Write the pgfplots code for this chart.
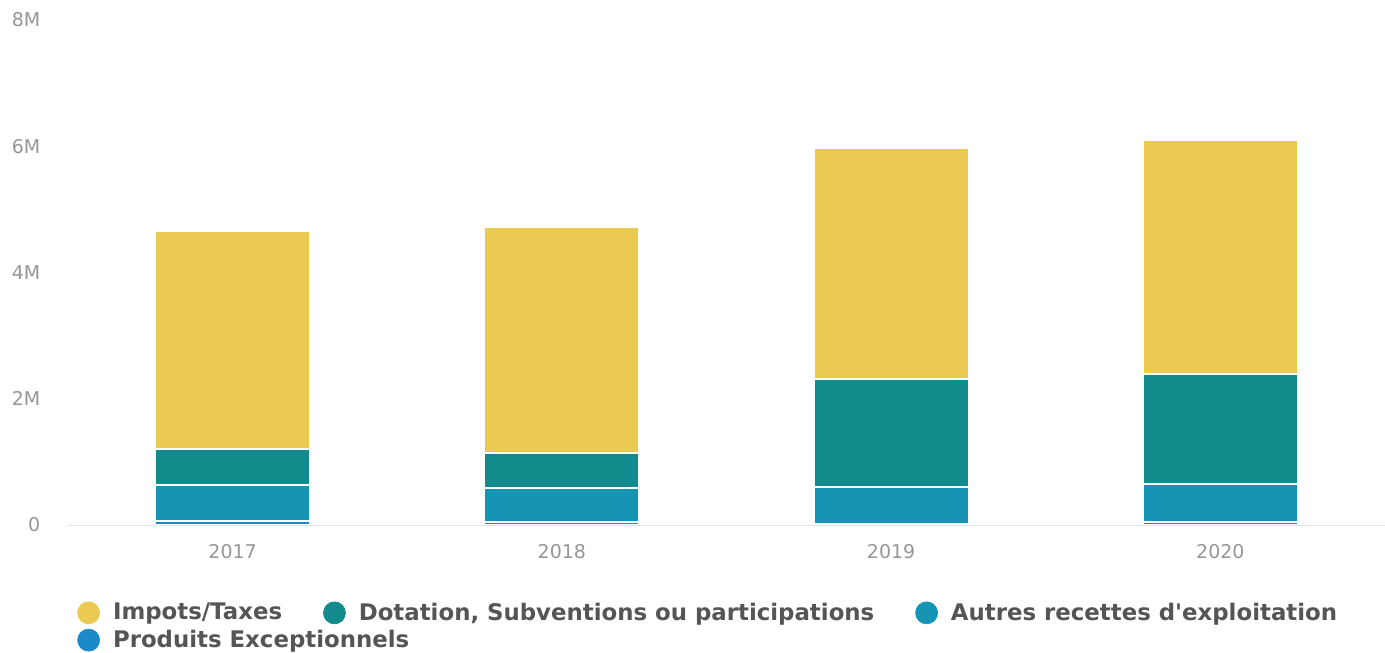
\documentclass[border=0pt]{standalone}
\usepackage{fontspec}
\setmainfont{DejaVu Sans}
\newfontfamily\plainfont{DejaVu Sans}
\usepackage{pgfplots}
\pgfplotsset{compat=1.18}
\usepackage{xcolor}
\definecolor{cImpots}{RGB}{234,202,80}
\definecolor{cDotation}{RGB}{19,139,140}
\definecolor{cAutres}{RGB}{22,148,180}
\definecolor{cProduits}{RGB}{26,138,200}
\definecolor{cTick}{RGB}{150,150,150}
\definecolor{cLeg}{RGB}{85,85,85}

\pgfplotsset{
  legcircle/.style={legend image code/.code={\fill[##1] (0.22cm,0cm) circle (0.22cm);}},
  legstyle/.style={
    legend style={draw=none, fill=none, inner sep=0pt, anchor=west,
      font=\plainfont\bfseries\fontsize{13}{15}\selectfont, text=cLeg,
      nodes={inner sep=0pt, anchor=west},
      /tikz/every odd column/.style={column sep=0.26cm},
      /tikz/every even column/.style={column sep=0.82cm}},
    legend cell align=left,
  },
}

\begin{document}
\begin{tikzpicture}
\useasboundingbox (-1.36,-2.56) rectangle (26.34,10.5);

\begin{axis}[
    name=main,
    at={(0,0)}, anchor=south west,
    scale only axis,
    width=26.34cm, height=10.1cm,
    ybar stacked,
    bar width=3.1cm,
    xmin=-0.5, xmax=3.5,
    ymin=0, ymax=8,
    xtick={0,1,2,3},
    xticklabels={2017,2018,2019,2020},
    ytick={0,2,4,6,8},
    yticklabels={0,2M,4M,6M,8M},
    axis x line=bottom,
    axis y line=left,
    x axis line style={draw=black!10, -},
    y axis line style={draw=none},
    major tick length=0pt,
    tick label style={font=\fontsize{10.8}{12}\selectfont, text=cTick},
    xticklabel style={yshift=-0.27cm},
    yticklabel style={xshift=-0.43cm},
    /pgf/number format/assume math mode=true,
    every axis plot/.append style={draw=white, line width=1.1pt},
]
% Produits Exceptionnels
\addplot[fill=cProduits] coordinates {(0,0.07) (1,0.05) (2,0.01) (3,0.05)};
% Autres recettes d'exploitation
\addplot[fill=cAutres] coordinates {(0,0.56) (1,0.54) (2,0.59) (3,0.60)};
% Dotation, Subventions ou participations
\addplot[fill=cDotation] coordinates {(0,0.57) (1,0.55) (2,1.71) (3,1.74)};
% Impots/Taxes
\addplot[fill=cImpots] coordinates {(0,3.46) (1,3.58) (2,3.66) (3,3.71)};
\end{axis}

% legend, first row
\begin{axis}[
    at={(0,0)}, anchor=south west,
    scale only axis, width=26.34cm, height=10.1cm,
    xmin=0, xmax=1, ymin=0, ymax=1, hide axis,
    legstyle, legcircle, legend columns=3,
    legend style={at={(axis description cs:0.0068,-0.174)}},
]
\addlegendimage{cImpots}
\addlegendentry{Impots/Taxes}
\addlegendimage{cDotation}
\addlegendentry{Dotation, Subventions ou participations}
\addlegendimage{cAutres}
\addlegendentry{Autres recettes d'exploitation}
\end{axis}

% legend, second row
\begin{axis}[
    at={(0,0)}, anchor=south west,
    scale only axis, width=26.34cm, height=10.1cm,
    xmin=0, xmax=1, ymin=0, ymax=1, hide axis,
    legstyle, legcircle,
    legend style={at={(axis description cs:0.0068,-0.228)}},
]
\addlegendimage{cProduits}
\addlegendentry{Produits Exceptionnels}
\end{axis}
\end{tikzpicture}
\end{document}
